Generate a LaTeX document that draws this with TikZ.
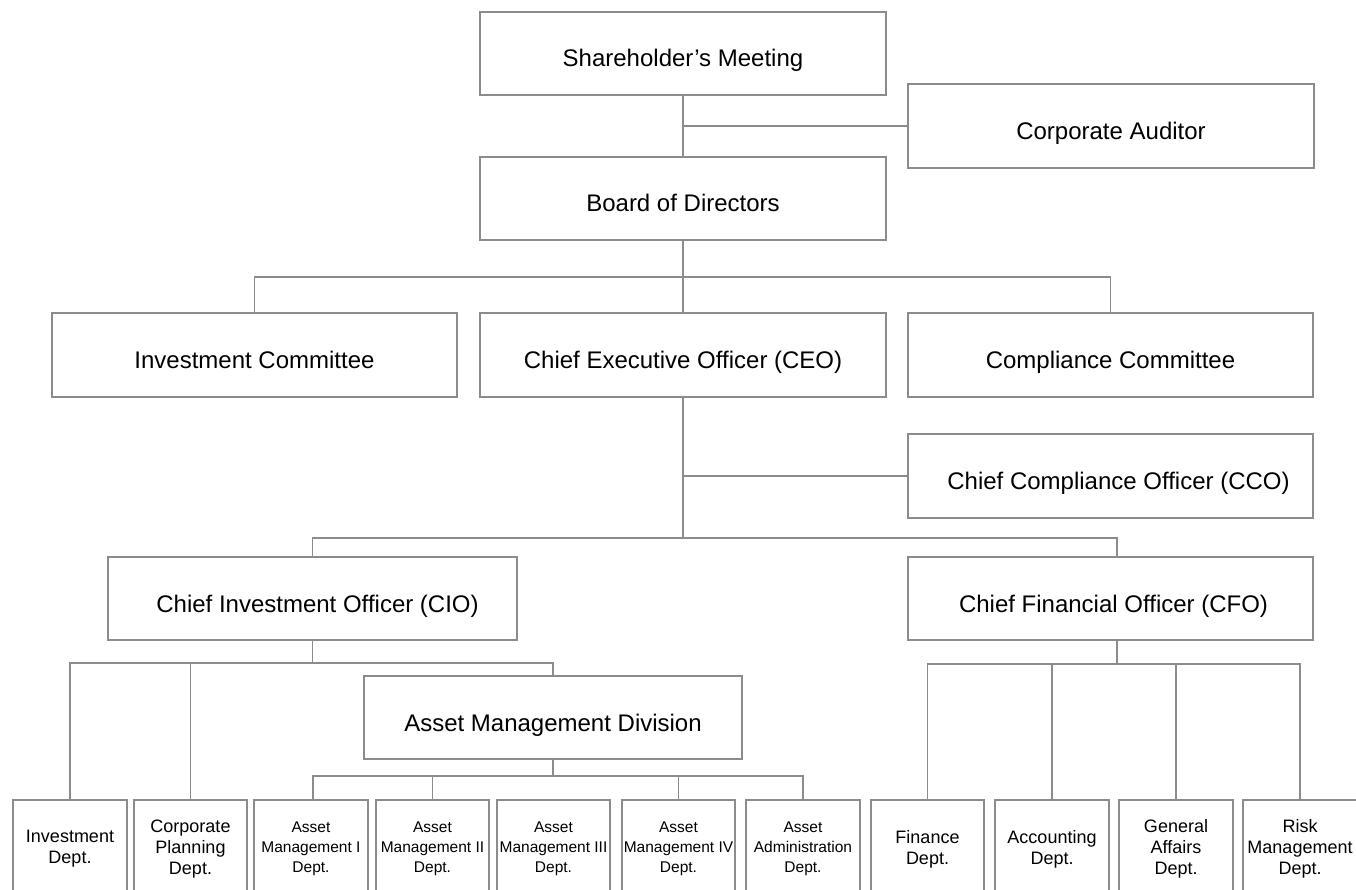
\documentclass[tikz,border=0pt]{standalone}
\usepackage{fontspec}
\setmainfont{Liberation Sans}
\definecolor{linegray}{RGB}{140,140,140}
\begin{document}
\begin{tikzpicture}[x=1pt,y=-1pt,
  conn/.style={draw=linegray,line width=1.4pt},
  bigbox/.style={draw=linegray,line width=1.4pt,rectangle,minimum width=406pt,minimum height=83pt,inner sep=0pt,
    font=\fontsize{24}{28}\selectfont,text height=30pt,text depth=3pt},
  deptbox/.style={draw=linegray,line width=1.4pt,rectangle,minimum width=114pt,minimum height=98pt,inner sep=0pt,
    align=center,font=\fontsize{18}{21}\selectfont},
  amdept/.style={deptbox,font=\fontsize{15.5}{20}\selectfont}]
\useasboundingbox (0,0) rectangle (1356,890);
\fill[white] (0,0) rectangle (1356,890);
\clip (0,0) rectangle (1356,890);

% top levels
\node[bigbox] (sh) at (683,53.5) {Shareholder’s Meeting};
\node[bigbox,minimum height=84pt] (ca) at (1111,126) {Corporate Auditor};
\node[bigbox] (bd) at (683,198.5) {Board of Directors};
\node[bigbox,minimum width=405pt,minimum height=84pt] (ic) at (254.5,355) {Investment Committee};
\node[bigbox,minimum height=84pt] (ceo) at (683,355) {Chief Executive Officer (CEO)};
\node[bigbox,minimum width=405pt,minimum height=84pt] (cc) at (1110.5,355) {Compliance Committee};
\node[bigbox,minimum width=405pt,minimum height=84pt] (cco) at (1110.5,476) {\hspace*{16pt}Chief Compliance Officer (CCO)};
\node[bigbox,minimum width=409pt] (cio) at (312.5,598.5) {\hspace*{10pt}Chief Investment Officer (CIO)};
\node[bigbox,minimum width=405pt] (cfo) at (1110.5,598.5) {\hspace*{6pt}Chief Financial Officer (CFO)};
\node[bigbox,minimum width=378pt] (amd) at (553,717.5) {Asset Management Division};

% bottom departments
\node[deptbox] (invd) at (70,849) {Investment\\Dept.};
\node[deptbox,minimum width=113pt] (cpd) at (190.5,849) {Corporate\\Planning\\Dept.};
\node[amdept] (am1) at (311,849) {Asset\\Management I\\Dept.};
\node[amdept,minimum width=113pt] (am2) at (432.5,849) {Asset\\Management II\\Dept.};
\node[amdept,minimum width=113pt] (am3) at (553.5,849) {Asset\\Management III\\Dept.};
\node[amdept,minimum width=113pt] (am4) at (678.5,849) {Asset\\Management IV\\Dept.};
\node[amdept] (aad) at (803,849) {Asset\\Administration\\Dept.};
\node[deptbox,minimum width=113pt] (fin) at (927.5,849) {Finance\\Dept.};
\node[deptbox] (acc) at (1052,849) {Accounting\\Dept.};
\node[deptbox] (ga) at (1176,849) {General\\Affairs\\Dept.};
\node[deptbox] (rm) at (1300,849) {Risk\\Management\\Dept.};

% junctions
\coordinate (j1) at (683,277);
\coordinate (j2) at (683,538);
\coordinate (j3) at (312.5,663);
\coordinate (j4) at (553,776);
\coordinate (j5) at (1117,664);

% connectors
\draw[conn] (sh.south) -- (bd.north);
\draw[conn] (ca.west) -- (ca.west -| sh.south);
\draw[conn] (bd.south) -- (j1);
\draw[conn] (ic.north) |- (j1) -| (cc.north);
\draw[conn] (j1) -- (ceo.north);
\draw[conn] (ceo.south) -- (j2);
\draw[conn] (cco.west) -- (cco.west -| ceo.south);
\draw[conn] (cio.north) |- (j2) -| ([xshift=6.5pt]cfo.north);
\draw[conn] (cio.south) -- (j3);
\draw[conn] (invd.north) |- (j3) -| (amd.north);
\draw[conn] (cpd.north) -- (cpd.north |- j3);
\draw[conn] (amd.south) -- (j4);
\draw[conn] ([xshift=2pt]am1.north) |- (j4) -| (aad.north);
\draw[conn] (am2.north) -- (am2.north |- j4);
\draw[conn] (am4.north) -- (am4.north |- j4);
\draw[conn] ([xshift=6.5pt]cfo.south) -- (j5);
\draw[conn] (fin.north) |- (j5) -| (rm.north);
\draw[conn] (acc.north) -- (acc.north |- j5);
\draw[conn] (ga.north) -- (ga.north |- j5);
\end{tikzpicture}
\end{document}
